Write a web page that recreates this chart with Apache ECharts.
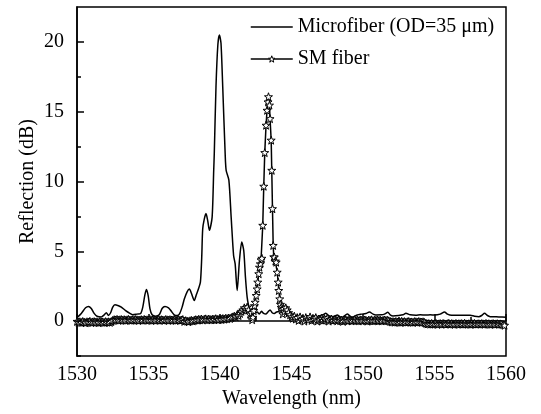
<!DOCTYPE html>
<html>
<head>
<meta charset="utf-8">
<script src="https://cdn.jsdelivr.net/npm/echarts@6/dist/echarts.min.js"></script>
<style>html,body{margin:0;padding:0;background:#fff}#chart{width:541px;height:414px}</style>
</head>
<body>
<div id="chart"></div>
<script>
// ---- Data ----
const xTicks = [1530, 1535, 1540, 1545, 1550, 1555, 1560];
const yTicks = [0, 5, 10, 15, 20];
const yMinorTicks = [-2.5, 2.5, 7.5, 12.5, 17.5];
const seriesNames = ['Microfiber (OD=35 μm)', 'SM fiber'];

// Microfiber (OD=35 μm): wavelength (nm) and reflection (dB)
const mfWavelength = [1530.0,1530.3,1530.6,1530.8,1531.0,1531.2,1531.4,1531.7,1531.9,1532.05,1532.2,1532.35,1532.5,1532.65,1532.9,1533.1,1533.4,1533.7,1533.9,1534.2,1534.45,1534.6,1534.75,1534.86,1534.98,1535.1,1535.25,1535.5,1535.75,1535.95,1536.15,1536.4,1536.6,1536.8,1537.0,1537.17,1537.35,1537.51,1537.7,1537.86,1538.0,1538.2,1538.35,1538.49,1538.63,1538.72,1538.79,1538.9,1539.02,1539.14,1539.26,1539.45,1539.56,1539.6,1539.72,1539.85,1539.96,1540.07,1540.19,1540.36,1540.43,1540.62,1540.78,1540.95,1541.06,1541.2,1541.36,1541.52,1541.66,1541.78,1541.9,1542.0,1542.1,1542.25,1542.4,1542.6,1542.75,1542.9,1543.05,1543.2,1543.35,1543.5,1543.65,1543.8,1543.95,1544.1,1544.3,1544.5,1544.7,1544.86,1545.2,1545.5,1545.8,1546.1,1546.5,1546.9,1547.2,1547.4,1547.6,1547.75,1548.0,1548.2,1548.4,1548.55,1548.9,1549.1,1549.25,1549.6,1549.9,1550.2,1550.45,1550.7,1550.9,1551.3,1551.5,1551.74,1551.9,1552.1,1552.5,1552.8,1553.0,1553.3,1553.7,1554.0,1554.4,1554.7,1555.0,1555.4,1555.7,1555.9,1556.2,1556.8,1557.5,1557.8,1558.1,1558.3,1558.5,1558.7,1558.9,1559.5,1560.0];
const mfReflection = [0.25,0.55,0.95,1.05,0.9,0.55,0.35,0.3,0.45,0.6,0.4,0.6,1.0,1.17,1.1,1.0,0.75,0.55,0.45,0.5,0.55,1.0,1.9,2.27,1.8,0.9,0.45,0.35,0.45,0.9,1.05,0.95,0.7,0.45,0.4,0.52,1.0,1.6,2.1,2.3,2.0,1.47,1.9,2.3,2.79,4.5,6.6,7.3,7.7,7.2,6.5,7.45,10.8,12.0,16.8,19.8,20.5,19.9,16.8,12.0,10.8,10.1,7.45,4.7,4.1,2.19,4.34,5.66,5.06,3.14,1.7,1.1,0.7,0.5,0.55,0.65,0.5,0.7,0.55,0.5,0.65,0.8,0.6,0.55,0.65,0.7,0.85,0.75,0.5,0.44,0.35,0.3,0.27,0.35,0.3,0.35,0.45,0.56,0.4,0.3,0.35,0.44,0.3,0.27,0.5,0.35,0.27,0.44,0.5,0.55,0.65,0.5,0.44,0.45,0.5,0.63,0.45,0.37,0.4,0.45,0.56,0.45,0.42,0.45,0.44,0.45,0.44,0.5,0.65,0.5,0.42,0.42,0.42,0.35,0.32,0.4,0.56,0.4,0.32,0.3,0.28];

// SM fiber: baseline left of the peak, sampled from 1530.0 nm every 0.1 nm
const smLeftStart = 1530.0;
const smLeftStep = 0.1;
const smLeftReflection = [
 -0.02,-0.08,-0.05,-0.1,-0.03,-0.07,-0.12,-0.05,-0.08,-0.02,-0.1,-0.06,-0.04,-0.09,-0.05,-0.11,-0.03,-0.07,-0.06,-0.1,-0.04,-0.08,-0.05,-0.09,-0.03,
 0.05,0.1,0.08,0.12,0.06,0.09,0.11,0.07,0.1,0.05,0.09,0.12,0.08,0.06,0.1,0.07,0.11,0.09,0.05,0.08,0.1,0.06,0.12,0.08,0.09,0.07,0.11,0.05,0.1,0.08,0.06,0.09,0.12,0.07,0.1,0.08,0.05,0.11,0.09,0.06,0.1,0.08,0.07,0.12,0.05,0.09,0.1,0.06,0.08,0.11,
 -0.02,0.03,0.0,-0.04,0.02,0.05,0.01,0.06,0.1,0.08,
 0.12,0.1,0.15,0.08,0.13,0.16,0.1,0.14,0.12,0.09,0.15,0.11,0.17,0.13,0.1,0.16,0.12,0.18,0.14,0.2,0.17,0.22,0.19,0.25,0.3,
 0.35,0.3,0.45,0.4,0.55,0.7,0.8,0.95,0.85,1.0,0.8,0.5
];
// SM fiber: reflection peak region
const smPeakWavelength = [1542.2,1542.25,1542.3,1542.36,1542.41,1542.46,1542.53,1542.6,1542.64,1542.71,1542.76,1542.82,1542.87,1542.93,1542.99,1543.06,1543.13,1543.22,1543.29,1543.36,1543.39,1543.46,1543.5,1543.58,1543.62,1543.67,1543.72,1543.76,1543.8,1543.87,1543.93,1544.0,1544.07,1544.11,1544.18,1544.23,1544.28,1544.34,1544.39,1544.45,1544.5];
const smPeakReflection = [0.6,0.1,0.27,0.75,1.1,1.35,1.83,2.3,2.79,3.39,3.86,4.1,4.39,4.5,6.86,9.66,12.07,14.03,15.1,15.7,16.07,15.47,14.5,12.96,10.8,8.05,5.42,4.6,4.58,4.3,4.22,3.5,2.79,2.19,1.59,1.2,0.99,0.8,0.52,0.9,0.7];
// SM fiber: baseline right of the peak, sampled from 1544.6 nm every 0.1 nm
const smRightStart = 1544.6;
const smRightStep = 0.1;
const smRightReflection = [
 0.95,0.8,0.6,0.45,0.3,
 0.2,0.35,0.15,0.25,0.05,0.3,0.1,0.2,0.0,0.25,
 0.15,0.1,0.3,0.05,0.2,0.12,0.25,0.0,0.15,0.1,0.2,0.05,0.18,0.08,0.22,0.0,0.12,0.15,0.05,0.1,
 0.08,0.02,0.1,0.04,0.07,-0.02,0.06,0.09,0.03,0.05,0.08,0.01,0.06,0.1,0.04,0.07,0.02,0.09,0.05,0.03,0.08,0.06,0.0,0.07,0.04,0.09,0.02,0.06,0.05,0.08,0.03,0.07,0.01,0.05,0.08,0.04,0.06,0.02,
 -0.02,-0.06,-0.04,-0.08,-0.03,-0.07,-0.05,-0.09,-0.02,-0.06,-0.04,-0.08,-0.05,-0.03,-0.07,-0.06,-0.09,-0.04,-0.05,-0.08,-0.03,-0.06,-0.07,-0.05,-0.1,
 -0.15,-0.2,-0.18,-0.22,-0.17,-0.21,-0.19,-0.16,-0.23,-0.2,-0.18,-0.22,-0.17,-0.2,-0.21,-0.19,-0.16,-0.22,-0.18,-0.2,-0.23,-0.17,-0.21,-0.19,-0.2,-0.18,-0.22,-0.16,-0.2,-0.21,-0.19,-0.23,-0.18,-0.2,-0.17,-0.22,-0.2,-0.19,-0.21,-0.18,-0.2,-0.22,-0.17,-0.21,-0.19,-0.23,-0.2,-0.18,-0.22,-0.2,-0.19,-0.21,-0.2,-0.22,-0.25,-0.3
];

// ---- Build series data ----
const r2 = v => Math.round(v * 1000) / 1000;
const mfData = mfWavelength.map((w, i) => [w, mfReflection[i]]);
const smData = []
  .concat(smLeftReflection.map((v, i) => [r2(smLeftStart + i * smLeftStep), v]))
  .concat(smPeakWavelength.map((w, i) => [w, smPeakReflection[i]]))
  .concat(smRightReflection.map((v, i) => [r2(smRightStart + i * smRightStep), v]));

const STAR = 'path://M0,-10 L2.35,-3.24 L9.51,-3.09 L3.8,1.24 L5.88,8.09 L0,4 L-5.88,8.09 L-3.8,1.24 L-9.51,-3.09 L-2.35,-3.24 Z';
const FONT = "'Liberation Serif', 'Times New Roman', serif";

const chart = echarts.init(document.getElementById('chart'), null, {renderer: 'canvas'});
chart.setOption({
  animation: false,
  backgroundColor: '#fff',
  grid: {left: 77, right: 35, top: 7, bottom: 58, show: true, borderColor: '#000', borderWidth: 1.5, backgroundColor: 'transparent'},
  legend: {
    left: 250, top: 16, orient: 'vertical', padding: 0,
    itemWidth: 42, itemHeight: 8, itemGap: 10,
    textStyle: {fontFamily: FONT, fontSize: 20, color: '#000', lineHeight: 22},
    data: [
      {name: seriesNames[0], itemStyle: {color: 'rgba(0,0,0,0)', borderWidth: 0, opacity: 0}, lineStyle: {color: '#000', width: 1.5}},
      {name: seriesNames[1], itemStyle: {color: '#fff', borderColor: '#000', borderWidth: 1}, lineStyle: {color: '#000', width: 1.5}}
    ]
  },
  xAxis: {
    type: 'value', min: xTicks[0], max: xTicks[xTicks.length - 1], interval: 5,
    name: 'Wavelength (nm)', nameLocation: 'middle', nameGap: 33, nameMoveOverlap: false,
    nameTextStyle: {fontFamily: FONT, fontSize: 20, color: '#000'},
    axisLine: {show: true, lineStyle: {color: '#000', width: 1.5}},
    axisTick: {show: true, inside: true, length: 7, lineStyle: {color: '#000', width: 1.5}},
    minorTick: {show: true, splitNumber: 2, length: 4, lineStyle: {color: '#000', width: 1.5}},
    axisLabel: {fontFamily: FONT, fontSize: 20, color: '#000', margin: 9, formatter: v => String(v)},
    splitLine: {show: false}
  },
  yAxis: [{
    type: 'value', min: -2.5, max: 22.5,
    name: 'Reflection (dB)', nameLocation: 'middle', nameGap: 39, nameRotate: 90, nameMoveOverlap: false,
    nameTextStyle: {fontFamily: FONT, fontSize: 20, color: '#000'},
    axisLine: {show: true, lineStyle: {color: '#000', width: 1.5}},
    axisTick: {show: true, inside: true, length: 7, customValues: yTicks, lineStyle: {color: '#000', width: 1.5}},
    axisLabel: {fontFamily: FONT, fontSize: 20, color: '#000', margin: 13, customValues: yTicks, formatter: v => String(v)},
    splitLine: {show: false}
  }, {
    type: 'value', min: -2.5, max: 22.5, position: 'left',
    axisLine: {show: false},
    axisTick: {show: true, inside: true, length: 4, customValues: yMinorTicks, lineStyle: {color: '#000', width: 1.5}},
    axisLabel: {show: false, customValues: yMinorTicks},
    splitLine: {show: false}
  }],
  series: [{
    name: seriesNames[0], type: 'line', data: mfData, symbol: 'none',
    smooth: 0.25,
    lineStyle: {color: '#000', width: 1.5}, itemStyle: {color: '#000'}
  }, {
    name: seriesNames[1], type: 'line', data: smData,
    symbol: STAR, symbolSize: 8, showAllSymbol: true,
    lineStyle: {color: '#000', width: 1.5},
    itemStyle: {color: '#fff', borderColor: '#000', borderWidth: 1}
  }]
});
</script>
</body>
</html>
